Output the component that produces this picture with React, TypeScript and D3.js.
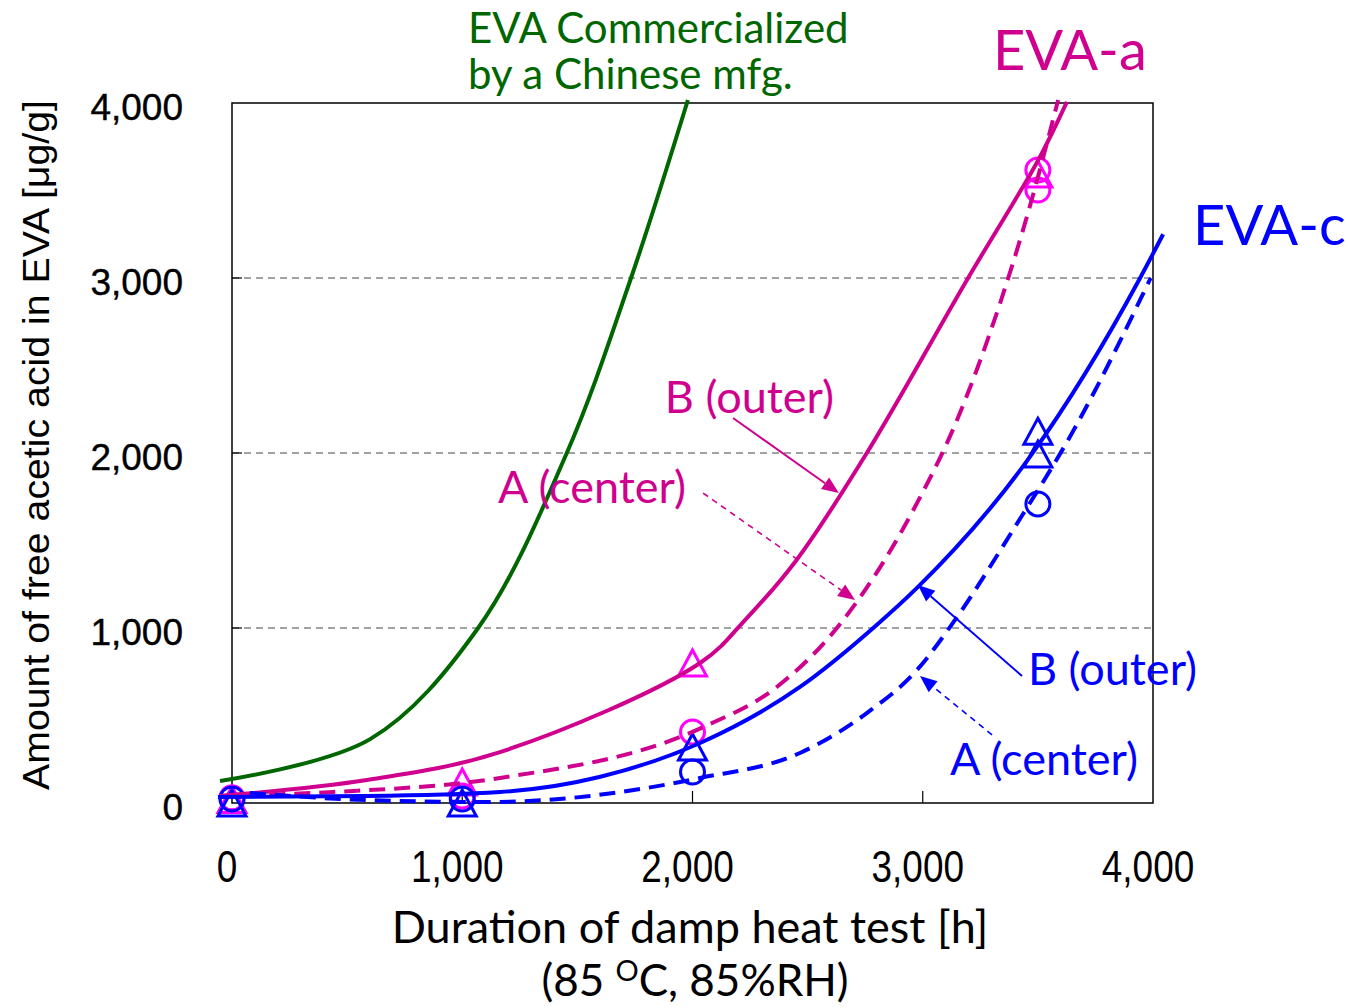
import React from "react"
import * as d3 from "d3"

type Pt = [number, number]

// fitted curves [hours, ug/g]
const greenCurve: Pt[] = [[-52, 126], [600, 365], [1069, 1000], [1454, 2000], [1733, 3000], [1980, 4017]]
const eva_a_outer: Pt[] = [[-55, 40], [586, 131], [1164, 291], [2033, 800], [2236, 1057], [2452, 1389], [2757, 2000], [3197, 3000], [3502, 3675], [3626, 4006]]
const eva_a_center: Pt[] = [[-55, 40], [440, 63], [1164, 143], [2047, 434], [2366, 663], [2627, 1000], [2959, 1674], [3149, 2189], [3336, 2857], [3452, 3349], [3588, 4017]]
const eva_c_outer: Pt[] = [[-61, 34], [586, 40], [1164, 63], [1600, 150], [2033, 343], [2467, 663], [2785, 1000], [2975, 1229], [3466, 1979], [3944, 3000], [4044, 3250]]
const eva_c_center: Pt[] = [[78, 57], [586, 17], [1120, 6], [2033, 143], [2467, 286], [2757, 514], [2975, 760], [3131, 1029], [3392, 1560], [3668, 2160], [3990, 3000]]

// measured points
const aTriangles: Pt[] = [[0, 20], [1000, 120], [2000, 800], [3500, 3594]]
const aCircles: Pt[] = [[0, 30], [1000, 40], [2000, 406], [3500, 3617], [3500, 3503]]
const cTriangles: Pt[] = [[0, 0], [1000, 0], [2000, 320], [3500, 2124], [3500, 1994]]
const cCircles: Pt[] = [[0, 23], [1000, 23], [2000, 177], [3500, 1709]]

const xTicks = [0, 1000, 2000, 3000, 4000]
const yTicks = [0, 1000, 2000, 3000, 4000]
const gridLines = [1000, 2000, 3000]

// annotation arrows: [from, to] in data units
const arrows: { from: Pt; to: Pt; color: string; dashed: boolean }[] = [
  { from: [2176, 2200], to: [2636, 1771], color: "#D0008E", dashed: false },
  { from: [2046, 1771], to: [2706, 1160], color: "#D0008E", dashed: true },
  { from: [3431, 726], to: [2979, 1246], color: "#0000FF", dashed: false },
  { from: [3301, 389], to: [2988, 726], color: "#0000FF", dashed: true },
]

const labels: { text: string; at: Pt; color: string; size: number }[] = [
  { text: "EVA Commercialized", at: [1025, 4343], color: "#006600", size: 42 },
  { text: "by a Chinese mfg.", at: [1025, 4080], color: "#006600", size: 42 },
  { text: "EVA-a", at: [3305, 4189], color: "#D0008E", size: 56 },
  { text: "EVA-c", at: [4174, 3189], color: "#0000FF", size: 56 },
  { text: "B (outer)", at: [1880, 2229], color: "#D0008E", size: 45 },
  { text: "A (center)", at: [1155, 1714], color: "#D0008E", size: 45 },
  { text: "B (outer)", at: [3457, 674], color: "#0000FF", size: 45 },
  { text: "A (center)", at: [3118, 160], color: "#0000FF", size: 45 },
]

const MAG = "#D0008E"
const MAG_MARK = "#FF00FF"
const BLUE = "#0000FF"
const GREEN = "#006600"
const SANS = "Lato, Carlito, 'Open Sans', sans-serif"

export default function App() {
  const x = d3.scaleLinear().domain([0, 4000]).range([232, 1153])
  const y = d3.scaleLinear().domain([0, 4000]).range([803, 103])

  const line = d3
    .line<Pt>()
    .x((d) => x(d[0]))
    .y((d) => y(d[1]))
    .curve(d3.curveMonotoneX)
  const soft = d3
    .line<Pt>()
    .x((d) => x(d[0]))
    .y((d) => y(d[1]))
    .curve(d3.curveCatmullRom.alpha(0.5))

  const tri = (cx: number, cy: number) => {
    const w = 14, h = 13
    return `M${cx},${cy - h} L${cx + w},${cy + h} L${cx - w},${cy + h} Z`
  }

  const arrow = (a: (typeof arrows)[number], i: number) => {
    const x1 = x(a.from[0]), y1 = y(a.from[1])
    const x2 = x(a.to[0]), y2 = y(a.to[1])
    const ang = Math.atan2(y2 - y1, x2 - x1)
    const len = 17, hw = 7
    const bx = x2 - len * Math.cos(ang), by = y2 - len * Math.sin(ang)
    const px = -Math.sin(ang) * hw, py = Math.cos(ang) * hw
    return (
      <g key={"ar" + i}>
        <line x1={x1} y1={y1} x2={bx} y2={by} stroke={a.color} strokeWidth={a.dashed ? 1.6 : 2} strokeDasharray={a.dashed ? "6,5" : undefined} />
        <path d={`M${x2},${y2} L${bx + px},${by + py} L${bx - px},${by - py} Z`} fill={a.color} />
      </g>
    )
  }

  return (
    <svg width={1348} height={1008} style={{ position: "absolute", left: 0, top: 0, background: "#fff" }}>
      {/* grid */}
      {gridLines.map((v) => (
        <line key={"g" + v} x1={x(0)} x2={x(4000)} y1={y(v)} y2={y(v)} stroke="#444" strokeWidth={1} strokeDasharray="7,5" />
      ))}
      {/* inner ticks */}
      {gridLines.map((v) => (
        <line key={"xt" + v} x1={x(v)} x2={x(v)} y1={y(0)} y2={y(0) - 12} stroke="#000" strokeWidth={1.2} />
      ))}
      {gridLines.map((v) => (
        <line key={"yt" + v} x1={x(0)} x2={x(0) + 10} y1={y(v)} y2={y(v)} stroke="#000" strokeWidth={1.2} />
      ))}
      <rect x={x(0)} y={y(4000)} width={x(4000) - x(0)} height={y(0) - y(4000)} fill="none" stroke="#000" strokeWidth={1.5} />

      {/* markers */}
      {aTriangles.map((d, i) => (
        <path key={"at" + i} d={tri(x(d[0]), y(d[1]))} fill="none" stroke={MAG_MARK} strokeWidth={3} />
      ))}
      {aCircles.map((d, i) => (
        <circle key={"ac" + i} cx={x(d[0])} cy={y(d[1])} r={12} fill="none" stroke={MAG_MARK} strokeWidth={3} />
      ))}
      {cTriangles.map((d, i) => (
        <path key={"ct" + i} d={tri(x(d[0]), y(d[1]))} fill="none" stroke={BLUE} strokeWidth={3} />
      ))}
      {cCircles.map((d, i) => (
        <circle key={"cc" + i} cx={x(d[0])} cy={y(d[1])} r={12} fill="none" stroke={BLUE} strokeWidth={3} />
      ))}

      {/* curves */}
      <path d={soft(greenCurve) ?? ""} fill="none" stroke={GREEN} strokeWidth={4} />
      <path d={soft(eva_a_outer) ?? ""} fill="none" stroke={MAG} strokeWidth={4} />
      <path d={line(eva_a_center) ?? ""} fill="none" stroke={MAG} strokeWidth={4} strokeDasharray="16,9" />
      <path d={line(eva_c_outer) ?? ""} fill="none" stroke={BLUE} strokeWidth={4} />
      <path d={line(eva_c_center) ?? ""} fill="none" stroke={BLUE} strokeWidth={4} strokeDasharray="16,9" />

      {arrows.map(arrow)}

      {labels.map((l, i) => (
        <text key={"l" + i} x={x(l.at[0])} y={y(l.at[1])} fill={l.color} fontSize={l.size} fontFamily={SANS}>
          {l.text}
        </text>
      ))}

      {/* tick labels */}
      {yTicks.map((v) => (
        <text key={"yl" + v} x={183} y={y(v) + 17} textAnchor="end" fontSize={37} fontFamily="'Liberation Sans', Arial, sans-serif" fill="#000" stroke="#000" strokeWidth={0.4}>
          {d3.format(",")(v)}
        </text>
      ))}
      {xTicks.map((v) => (
        <g key={"xl" + v} transform={`translate(${x(v) - 5},882) scale(0.84,1)`}>
          <text textAnchor="middle" fontSize={44} fontFamily="'Liberation Sans', Arial, sans-serif" fill="#000">
            {d3.format(",")(v)}
          </text>
        </g>
      ))}

      {/* axis titles */}
      <text x={690} y={943} textAnchor="middle" fontSize={45} fontFamily={SANS} fill="#000">
        Duration of damp heat test [h]
      </text>
      <text x={695} y={996} textAnchor="middle" fontSize={44} fontFamily={SANS} fill="#000">
        (85 <tspan fontSize={29} dy={-15}>O</tspan>
        <tspan dy={15}>C, 85%RH)</tspan>
      </text>
      <text transform="translate(49,445) rotate(-90)" textAnchor="middle" fontSize={37} textLength={690} lengthAdjust="spacingAndGlyphs" fontFamily="'Liberation Sans', Arial, sans-serif" fill="#000">
        Amount of free acetic acid in EVA [μg/g]
      </text>
    </svg>
  )
}
